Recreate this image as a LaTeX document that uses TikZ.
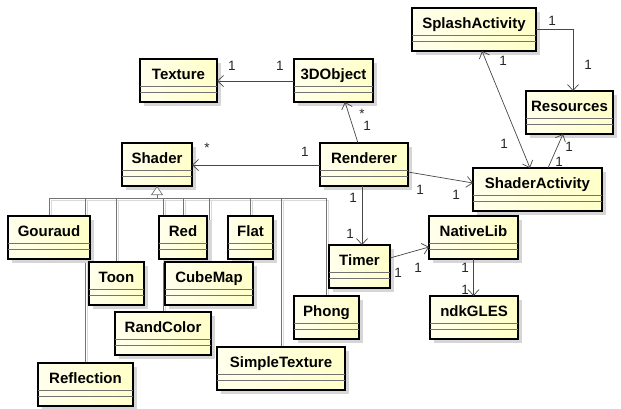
\documentclass[tikz,border=0pt]{standalone}
\usepackage{fontspec}
\setmainfont{Liberation Sans}
\usetikzlibrary{arrows.meta,calc,shadows,backgrounds}
\definecolor{classleft}{RGB}{255,255,236}
\definecolor{classright}{RGB}{255,255,200}
\definecolor{linegray}{RGB}{70,70,70}
\tikzset{
 classbox/.style={draw=black, line width=1.4pt, left color=classleft, right color=classright, anchor=north west,
   minimum height=43pt, inner sep=0pt, outer sep=0pt,
   drop shadow={shadow xshift=3.5pt, shadow yshift=-3.5pt, fill=black!16, opacity=1}},
 classname/.style={font=\fontsize{15}{18}\selectfont\bfseries, inner sep=0pt, anchor=base},
 sepline/.style={draw=black!55, line width=0.8pt},
 assoc/.style={draw=linegray, line width=0.7pt, -{Straight Barb[length=6pt,width=11pt]}},
 bothassoc/.style={draw=linegray, line width=0.7pt, {Straight Barb[length=6pt,width=11pt]}-{Straight Barb[length=6pt,width=11pt]}},
 genline/.style={draw=black!55, line width=0.7pt},
 genshadow/.style={draw=black!15, line width=0.7pt},
 mult/.style={font=\fontsize{13.5}{15}\selectfont, inner sep=0pt, text=black!85},
}
\newcommand\umlclass[5]{%
  \node[classbox, minimum width=#4pt] (#1) at (#2,#3) {};
  \node[classname] (#1-name) at ([yshift=-20pt]#1.north) {#5};
  \draw[sepline] ([yshift=-27.5pt]#1.north west) -- ([yshift=-27.5pt]#1.north east);
  \draw[sepline] ([yshift=-33.5pt]#1.north west) -- ([yshift=-33.5pt]#1.north east);
}
\begin{document}
\begin{tikzpicture}[x=1pt,y=-1pt]
\useasboundingbox (0,0) rectangle (621,408);
% classes
\umlclass{texture}{140}{59}{77}{Texture}
\umlclass{obj3d}{294}{59}{79}{3DObject}
\umlclass{shader}{122}{143}{70}{Shader}
\umlclass{renderer}{320}{143}{88}{Renderer}
\umlclass{splash}{412}{8}{124}{SplashActivity}
\umlclass{resources}{526}{91}{87}{Resources}
\umlclass{shaderact}{473}{168}{129}{ShaderActivity}
\umlclass{nativelib}{429}{216}{89}{NativeLib}
\umlclass{timer}{329}{245}{61}{Timer}
\umlclass{ndkgles}{430}{296}{88}{ndkGLES}
\umlclass{phong}{294}{296}{65}{Phong}
\umlclass{gouraud}{8}{216}{82}{Gouraud}
\umlclass{red}{159}{216}{48}{Red}
\umlclass{flat}{228}{216}{45}{Flat}
\umlclass{toon}{89}{262}{55}{Toon}
\umlclass{cubemap}{165}{262}{88}{CubeMap}
\umlclass{randcolor}{115}{312}{96}{RandColor}
\umlclass{simpletex}{217}{347}{128}{SimpleTexture}
\umlclass{reflection}{38}{363}{95}{Reflection}
% generalization
\coordinate (genbus) at (157,198);
\begin{pgfonlayer}{background}
\foreach \c in {gouraud,reflection,toon,randcolor,red,cubemap,flat,simpletex,phong}
  \draw[genshadow] ([xshift=2pt,yshift=-2pt]\c.north) |- ([xshift=2pt,yshift=-2pt]genbus);
\foreach \c in {gouraud,reflection,toon,randcolor,red,cubemap,flat,simpletex,phong}
  \draw[genline] (\c.north) |- (genbus);
\end{pgfonlayer}
\draw[genline, -{Triangle[open, length=9pt, width=12pt, fill=white]}] (genbus) -- (shader.south);
% associations
\draw[assoc] ([yshift=-22pt]obj3d.north west) -- ([yshift=-22pt]texture.north east);
\draw[assoc] ([xshift=-6pt]renderer.north) -- ([xshift=11.5pt]obj3d.south);
\draw[assoc] ([yshift=-22pt]renderer.north west) -- ([yshift=-22pt]shader.north east);
\draw[assoc] ([yshift=-29pt]renderer.north east) -- ([yshift=-15pt]shaderact.north west);
\draw[assoc] ([xshift=2.5pt]timer.north |- renderer.south) -- ([xshift=2.5pt]timer.north);
\draw[assoc] ([yshift=-13pt]timer.north east) -- ([yshift=-31pt]nativelib.north west);
\draw[assoc] (nativelib.south) -- (nativelib.south |- ndkgles.north);
\draw[bothassoc] ([xshift=8pt]splash.south) -- ([xshift=-7.5pt]shaderact.north);
\draw[assoc] ([yshift=-21pt]splash.north east) -| ([xshift=3.5pt]resources.north);
\draw[assoc] ([xshift=10.5pt]shaderact.north) -- ([xshift=-6.5pt]resources.south);
% multiplicities
\node[mult] (m1) at (232,66) {1};
\node[mult] (m2) at (280,66) {1};
\node[mult] (m3) at (362,114) {*};
\node[mult] (m4) at (367,126) {1};
\node[mult] (m5) at (207,148) {*};
\node[mult] (m6) at (305,152) {1};
\node[mult] (m7) at (420,190) {1};
\node[mult] (m8) at (456,195) {1};
\node[mult] (m9) at (353,198) {1};
\node[mult] (m10) at (350,234) {1};
\node[mult] (m11) at (398,273) {1};
\node[mult] (m12) at (418,268) {1};
\node[mult] (m13) at (465,268) {1};
\node[mult] (m14) at (465,290) {1};
\node[mult] (m15) at (503,61) {1};
\node[mult] (m16) at (504,144) {1};
\node[mult] (m17) at (552,21) {1};
\node[mult] (m18) at (588,65) {1};
\node[mult] (m19) at (569,147) {1};
\node[mult] (m20) at (559,162) {1};
\end{tikzpicture}
\end{document}
